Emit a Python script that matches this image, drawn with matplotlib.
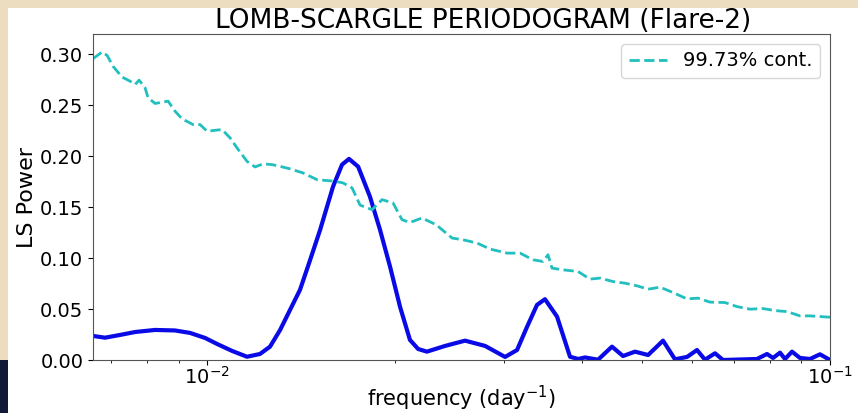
import numpy as np
import matplotlib
matplotlib.use('Agg')
from matplotlib import pyplot as plt
from matplotlib.patches import Rectangle

# LS power of the light curve
freq = [0.00656, 0.00686, 0.00725, 0.00767, 0.00825, 0.00888, 0.00939, 0.00993,
        0.01038, 0.01097, 0.01159, 0.01216, 0.01262, 0.01310, 0.01359, 0.01410,
        0.01464, 0.01519, 0.01593, 0.01647, 0.01690, 0.01748, 0.01826, 0.01895,
        0.01967, 0.02041, 0.02117, 0.02182, 0.02254, 0.02410, 0.02595, 0.02795,
        0.03009, 0.03145, 0.03263, 0.03386, 0.03487, 0.03646, 0.03825, 0.03941,
        0.04044, 0.04243, 0.04467, 0.04653, 0.04864, 0.05105, 0.05395, 0.05638,
        0.05895, 0.06116, 0.06300, 0.06537, 0.06734, 0.07170, 0.07635, 0.07923,
        0.08101, 0.08313, 0.08469, 0.08690, 0.08949, 0.09288, 0.09636, 0.1]
power = [0.0236, 0.0219, 0.0246, 0.0275, 0.0295, 0.0290, 0.0266, 0.0216,
         0.0157, 0.0089, 0.0032, 0.0059, 0.0131, 0.0295, 0.0492, 0.0689,
         0.0984, 0.1279, 0.1702, 0.1918, 0.1974, 0.1898, 0.1603, 0.1279,
         0.0915, 0.0521, 0.0197, 0.0108, 0.0082, 0.0138, 0.0190, 0.0138,
         0.0030, 0.0098, 0.0325, 0.0541, 0.0597, 0.0426, 0.0032, 0.0010,
         0.0025, 0.0003, 0.0131, 0.0039, 0.0082, 0.0049, 0.0190, 0.0007,
         0.0030, 0.0098, 0.0003, 0.0066, 0.0000, 0.0005, 0.0010, 0.0059,
         0.0020, 0.0072, 0.0010, 0.0082, 0.0020, 0.0010, 0.0056, 0.0]

# 99.73% confidence level
conf_freq = [0.006561, 0.006784, 0.006911, 0.007066, 0.007304, 0.007523, 0.007667,
             0.007778, 0.007952, 0.008041, 0.008253, 0.008659, 0.008884, 0.009118,
             0.009496, 0.009744, 0.01000, 0.01057, 0.010887, 0.011171, 0.011593,
             0.011940, 0.012298, 0.012717, 0.013098, 0.013592, 0.014260, 0.015018,
             0.016050, 0.016532, 0.017092, 0.017605, 0.018404, 0.019095, 0.019886,
             0.020559, 0.021174, 0.022131, 0.023318, 0.024737, 0.025761, 0.027130,
             0.028465, 0.030307, 0.031797, 0.033361, 0.034617, 0.035262, 0.035787,
             0.037272, 0.039394, 0.041180, 0.042736, 0.044839, 0.046873, 0.049000,
             0.051049, 0.053357, 0.055974, 0.058943, 0.061404, 0.064187, 0.067840,
             0.070916, 0.074405, 0.078068, 0.081605, 0.085304, 0.089493, 0.092876, 0.1]
conf_power = [0.2958, 0.3023, 0.2990, 0.2882, 0.2777, 0.2737, 0.2705,
              0.2747, 0.2672, 0.2574, 0.2518, 0.2541, 0.2442, 0.2367,
              0.2311, 0.2311, 0.2246, 0.2262, 0.2181, 0.2082, 0.1950,
              0.1895, 0.1925, 0.1918, 0.1901, 0.1876, 0.1836, 0.1770,
              0.1754, 0.1738, 0.1689, 0.1520, 0.1475, 0.1574, 0.1541,
              0.1377, 0.1350, 0.1394, 0.1328, 0.1197, 0.1180, 0.1148,
              0.1089, 0.1049, 0.1049, 0.0984, 0.0967, 0.1033, 0.0902,
              0.0885, 0.0869, 0.0794, 0.0804, 0.0770, 0.0754, 0.0728,
              0.0695, 0.0715, 0.0662, 0.0600, 0.0607, 0.0568, 0.0564,
              0.0524, 0.0499, 0.0505, 0.0485, 0.0475, 0.0433, 0.0433, 0.0420]

fig = plt.figure(figsize=(8.58, 4.13), dpi=100, facecolor='#ecdcc0')
# slide background around the plot
fig.patches.append(Rectangle((8 / 858, 0), 1, 1 - 8 / 413, transform=fig.transFigure,
                             facecolor='white', edgecolor='none', zorder=-10))
fig.patches.append(Rectangle((0, 0), 8 / 858, 53 / 413, transform=fig.transFigure,
                             facecolor='#101a36', edgecolor='none', zorder=-10))

ax = fig.add_axes([93 / 858, 53 / 413, 737 / 858, 326 / 413])
ax.plot(freq, power, color='#0a0ae6', lw=3)
ax.plot(conf_freq, conf_power, '--', color='#22bfbf', lw=2.0, label='99.73% cont.')

ax.set_xscale('log')
ax.set_xlim(0.00656, 0.1)
ax.set_ylim(0, 0.32)
ax.set_yticks(np.arange(0, 0.31, 0.05))
ax.set_title('LOMB-SCARGLE PERIODOGRAM (Flare-2)', fontsize=19, pad=2, x=0.53)
ax.set_xlabel('frequency (day$^{-1}$)', fontsize=15, labelpad=-3)
ax.set_ylabel('LS Power', fontsize=16, labelpad=2)
ax.tick_params(labelsize=14)
ax.tick_params(axis='x', pad=1)
for s in ax.spines.values():
    s.set_color('#555555')
ax.legend(loc='upper right', fontsize=14)

plt.savefig('out.png', dpi=100, facecolor=fig.get_facecolor())
